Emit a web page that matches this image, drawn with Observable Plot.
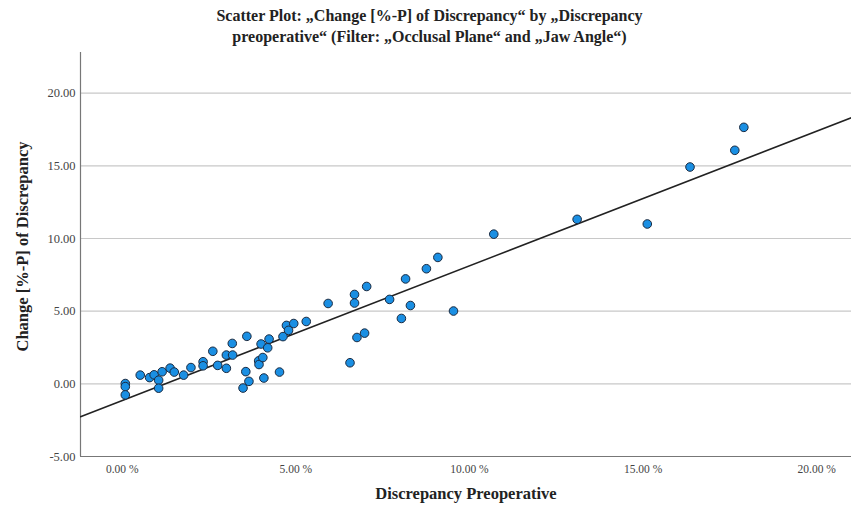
<!DOCTYPE html>
<html>
<head>
<meta charset="utf-8">
<script src="https://cdn.jsdelivr.net/npm/d3@7"></script>
<script src="https://cdn.jsdelivr.net/npm/@observablehq/plot@0.6"></script>
<style>
  body { margin: 0; background: #fff; font-family: "Liberation Serif", serif; }
  #wrap { width: 851px; height: 507px; position: relative; overflow: hidden; }
  #title { height: 48px; text-align: center; font-weight: bold; font-size: 16px; line-height: 21px; padding-top: 5px; box-sizing: border-box; color: #222; padding-left: 8px; }
  #chart svg { display: block; }
</style>
</head>
<body>
<div id="wrap">
  <div id="title">Scatter Plot: „Change [%-P] of Discrepancy“ by „Discrepancy<br>preoperative“ (Filter: „Occlusal Plane“ and „Jaw Angle“)</div>
  <div id="chart"></div>
</div>
<script>
// Discrepancy preoperative (%)
const preop = [0.09, 0.09, 0.09, 0.52, 0.79, 0.92, 1.05, 1.05, 1.15, 1.38, 1.50, 1.77, 1.98, 2.33, 2.33, 2.61, 2.75, 3.00, 3.00, 3.18, 3.17, 3.59, 3.48, 3.56, 3.65, 3.93, 3.94, 4.05, 4.00, 4.19, 4.23, 4.08, 4.53, 4.63, 4.73, 4.79, 4.94, 5.30, 5.93, 6.69, 6.69, 7.04, 6.56, 6.76, 6.98, 7.70, 8.16, 8.30, 8.04, 8.76, 9.09, 9.54, 10.70, 13.10, 15.12, 16.35, 17.64, 17.90];
// Change [%-P] of discrepancy
const change = [0.02, -0.19, -0.76, 0.60, 0.43, 0.62, 0.25, -0.30, 0.83, 1.08, 0.81, 0.60, 1.12, 1.52, 1.24, 2.24, 1.27, 1.98, 1.07, 1.98, 2.78, 3.27, -0.29, 0.84, 0.17, 1.58, 1.33, 1.81, 2.74, 2.48, 3.08, 0.40, 0.81, 3.25, 4.02, 3.68, 4.15, 4.29, 5.53, 6.15, 5.56, 6.70, 1.45, 3.19, 3.49, 5.81, 7.22, 5.39, 4.50, 7.92, 8.70, 5.01, 10.30, 11.32, 11.00, 14.92, 16.07, 17.65];
// Fit line (as drawn in the reference)
const fitIntercept = -1.15;
const fitSlope = 0.927;
const xTicks = [0, 5, 10, 15, 20];
const yTicks = [-5, 0, 5, 10, 15, 20];
const xDomain = [-1.2, 21.0];
const yDomain = [-5, 22.8];

const points = preop.map((x, i) => ({x, y: change[i]}));
const fit = xDomain.map(x => ({x, y: fitIntercept + fitSlope * x}));

const chart = Plot.plot({
  width: 851,
  height: 459,
  marginTop: 4,
  marginLeft: 80,
  marginRight: 0,
  marginBottom: 51,
  style: {fontFamily: "Liberation Serif, serif", fontSize: "12px", color: "#444", background: "#fff"},
  x: {domain: xDomain, label: null},
  y: {domain: yDomain, label: null},
  marks: [
    Plot.ruleY(yTicks.filter(d => d > yDomain[0]), {stroke: "#c8c8c8", strokeWidth: 1.2}),
    Plot.ruleX([xDomain[0]], {stroke: "#777", strokeWidth: 1.2}),
    Plot.ruleY([yDomain[0]], {stroke: "#777", strokeWidth: 1.2}),
    Plot.line(fit, {x: "x", y: "y", stroke: "#222", strokeWidth: 1.5, clip: true}),
    Plot.dot(points, {x: "x", y: "y", r: 4.3, fill: "#1a8fe3", stroke: "#1a2a40", strokeWidth: 1}),
    Plot.axisX({ticks: xTicks, tickFormat: d => d.toFixed(2) + " %", tickSize: 0, tickPadding: 8, label: null, fontSize: 11.5}),
    Plot.axisY({ticks: yTicks, tickFormat: d => d.toFixed(2), tickSize: 0, tickPadding: 5, label: null, fontSize: 12.5}),
    Plot.text(["Discrepancy Preoperative"], {frameAnchor: "bottom", dy: 42, fontSize: 16.5, fontWeight: "bold", fill: "#222"}),
    Plot.text(["Change [%-P] of Discrepancy"], {frameAnchor: "left", dx: -58, dy: -8, rotate: -90, textAnchor: "middle", fontSize: 16.5, fontWeight: "bold", fill: "#222"})
  ]
});
document.getElementById("chart").appendChild(chart);
</script>
</body>
</html>
